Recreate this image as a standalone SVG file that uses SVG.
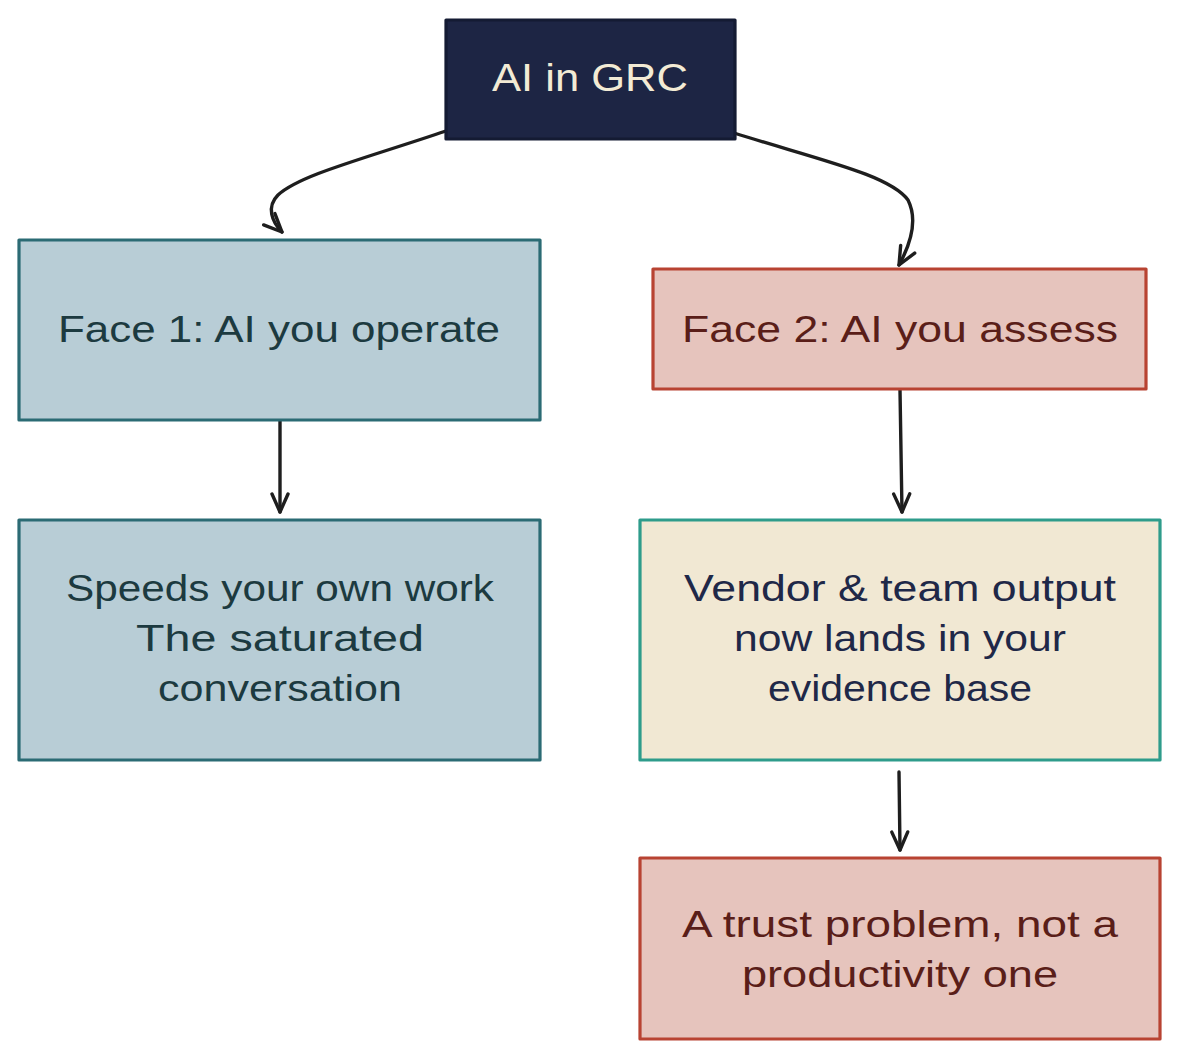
<svg xmlns="http://www.w3.org/2000/svg" width="1180" height="1059" viewBox="0 0 1180 1059">
<style>
text{font-family:"Liberation Sans","DejaVu Sans",sans-serif;text-anchor:middle;}
.box{stroke-width:3.2;stroke-linejoin:round;}
.blue{fill:#b8cdd6;stroke:#2b6b74;}
.red{fill:#e6c4bd;stroke:#b84332;}
.cream{fill:#f1e8d3;stroke:#2e9c8b;}
.navy{fill:#1d2544;stroke:#141b33;}
.tblue{fill:#1c3a40;font-size:37px;}
.tred{fill:#5a1e19;font-size:37px;}
.tnavy{fill:#1f2848;font-size:37px;}
.tcream{fill:#f3ebd5;font-size:39px;}
.conn{fill:none;stroke:#1e1e1e;stroke-width:3.4;stroke-linecap:round;stroke-linejoin:round;}
</style>
<defs>
<marker id="ah" viewBox="0 0 24 24" refX="21" refY="12" markerWidth="24" markerHeight="24" markerUnits="userSpaceOnUse" orient="auto">
<path d="M3,4 L21,12 L3,20" fill="none" stroke="#1e1e1e" stroke-width="3.4" stroke-linecap="round" stroke-linejoin="round"/>
</marker>
</defs>
<g id="connectors">
<path class="conn" d="M446,131 C360,160 300,175 278,195 C266,207 272,222 282,232" marker-end="url(#ah)"/>
<path class="conn" d="M734,133 C820,160 890,175 908,200 C918,220 910,245 899,265" marker-end="url(#ah)"/>
<path class="conn" d="M280,421 L280,512" marker-end="url(#ah)"/>
<path class="conn" d="M900,390 L902,512" marker-end="url(#ah)"/>
<path class="conn" d="M899,772 L900,850" marker-end="url(#ah)"/>
</g>
<g id="node-ai-grc">
<rect class="box navy" x="446" y="20" width="289" height="119"/>
<text class="tcream" x="590" y="91" textLength="196" lengthAdjust="spacingAndGlyphs">AI in GRC</text>
</g>
<g id="node-face1">
<rect class="box blue" x="19" y="240" width="521" height="180"/>
<text class="tblue" x="279" y="342" textLength="442" lengthAdjust="spacingAndGlyphs">Face 1: AI you operate</text>
</g>
<g id="node-face2">
<rect class="box red" x="653" y="269" width="493" height="120"/>
<text class="tred" x="900" y="342" textLength="436" lengthAdjust="spacingAndGlyphs">Face 2: AI you assess</text>
</g>
<g id="node-speeds">
<rect class="box blue" x="19" y="520" width="521" height="240"/>
<text class="tblue" x="280" y="601" textLength="428" lengthAdjust="spacingAndGlyphs">Speeds your own work</text>
<text class="tblue" x="280" y="651" textLength="288" lengthAdjust="spacingAndGlyphs">The saturated</text>
<text class="tblue" x="280" y="701" textLength="244" lengthAdjust="spacingAndGlyphs">conversation</text>
</g>
<g id="node-vendor">
<rect class="box cream" x="640" y="520" width="520" height="240"/>
<text class="tnavy" x="900" y="601" textLength="432" lengthAdjust="spacingAndGlyphs">Vendor &amp; team output</text>
<text class="tnavy" x="900" y="651" textLength="332" lengthAdjust="spacingAndGlyphs">now lands in your</text>
<text class="tnavy" x="900" y="701" textLength="264" lengthAdjust="spacingAndGlyphs">evidence base</text>
</g>
<g id="node-trust">
<rect class="box red" x="640" y="858" width="520" height="181"/>
<text class="tred" x="900" y="937" textLength="436" lengthAdjust="spacingAndGlyphs">A trust problem, not a</text>
<text class="tred" x="900" y="987" textLength="316" lengthAdjust="spacingAndGlyphs">productivity one</text>
</g>
</svg>
